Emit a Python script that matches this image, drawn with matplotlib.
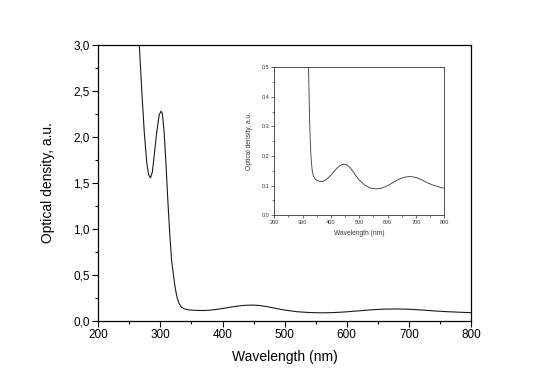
import matplotlib
matplotlib.use("Agg")
import matplotlib.pyplot as plt
from matplotlib.ticker import MultipleLocator, FuncFormatter

wavelength = [262, 266, 270, 274, 278, 281, 284, 287, 290, 294, 298, 301, 303,
              306, 309, 312, 315, 318, 321, 324, 327, 330, 334, 338, 344, 350,
              360, 370, 380, 390, 400, 410, 420, 430, 440, 450, 460, 470, 480,
              490, 500, 520, 540, 560, 580, 600, 620, 640, 660, 680, 700, 720,
              740, 760, 780, 800]
optical_density = [3.35, 3.0, 2.5, 2.05, 1.72, 1.59, 1.555, 1.62, 1.8, 2.05, 2.24,
                   2.28, 2.26, 2.05, 1.7, 1.3, 0.95, 0.66, 0.5, 0.35, 0.25, 0.19,
                   0.15, 0.133, 0.123, 0.118, 0.115, 0.114, 0.118, 0.126, 0.136,
                   0.147, 0.158, 0.167, 0.172, 0.173, 0.168, 0.158, 0.145, 0.131,
                   0.119, 0.101, 0.092, 0.089, 0.092, 0.100, 0.111, 0.122, 0.129,
                   0.131, 0.128, 0.120, 0.110, 0.102, 0.096, 0.091]

main_xticks = [200, 300, 400, 500, 600, 700, 800]
main_yticks = [0.0, 0.5, 1.0, 1.5, 2.0, 2.5, 3.0]
inset_yticks = [0.0, 0.1, 0.2, 0.3, 0.4, 0.5]

plt.rcParams['font.family'] = ['Liberation Sans', 'DejaVu Sans']

fig = plt.figure(figsize=(5.48, 3.85), dpi=100)
ax = fig.add_axes([0.1794, 0.1662, 0.8595 - 0.1794, 0.8831 - 0.1662])
ax.plot(wavelength, optical_density, color='#1a1a1a', lw=0.8)
ax.set_xlim(200, 800)
ax.set_ylim(0, 3.0)
ax.set_xticks(main_xticks)
ax.set_yticks(main_yticks)
ax.xaxis.set_minor_locator(MultipleLocator(50))
ax.yaxis.set_minor_locator(MultipleLocator(0.25))
ax.yaxis.set_major_formatter(FuncFormatter(lambda v, p: f"{v:.1f}".replace('.', ',')))
ax.tick_params(which='major', direction='out', length=4, width=0.8, labelsize=8.5, pad=2)
ax.tick_params(which='minor', direction='out', length=2.5, width=0.8)
for s in ax.spines.values():
    s.set_linewidth(0.9)
ax.set_xlabel("Wavelength (nm)", fontsize=10, labelpad=6)
ax.set_ylabel("Optical density, a.u.", fontsize=10, labelpad=13)

ins = fig.add_axes([0.5005, 0.4408, 0.8108 - 0.5005, 0.8252 - 0.4408])
ins.plot(wavelength, optical_density, color='#333333', lw=0.6)
ins.set_xlim(200, 800)
ins.set_ylim(0, 0.5)
ins.set_xticks(main_xticks)
ins.set_yticks(inset_yticks)
ins.xaxis.set_minor_locator(MultipleLocator(50))
ins.yaxis.set_minor_locator(MultipleLocator(0.05))
ins.yaxis.set_major_formatter(FuncFormatter(lambda v, p: f"{v:.1f}"))
ins.tick_params(which='major', direction='out', length=2, width=0.5, labelsize=4, pad=1.5, colors='#333333')
ins.tick_params(which='minor', direction='out', length=1.2, width=0.5, colors='#333333')
for s in ins.spines.values():
    s.set_linewidth(0.6)
    s.set_color('#333333')
ins.set_xlabel("Wavelength (nm)", fontsize=4.8, labelpad=3.5, color='#333333')
ins.set_ylabel("Optical density, a.u.", fontsize=4.8, labelpad=6, color='#333333')

fig.savefig("out.png", dpi=100)
